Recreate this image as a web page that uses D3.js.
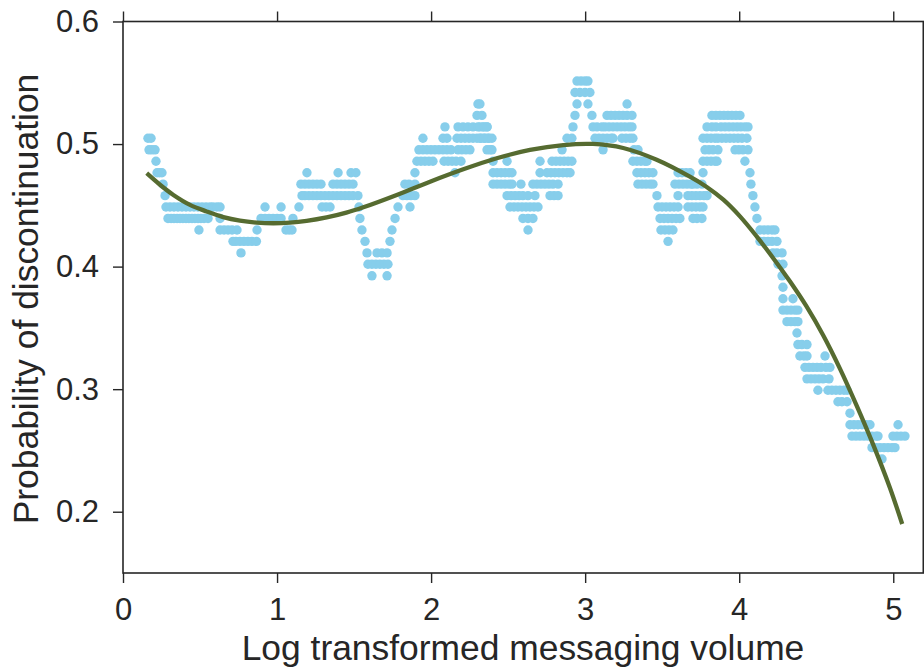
<!DOCTYPE html>
<html>
<head>
<meta charset="utf-8">
<script src="https://cdn.jsdelivr.net/npm/d3@7"></script>
<style>
  body { margin: 0; background: #fff; }
  svg { display: block; font-family: "Liberation Sans", Arial, sans-serif; }
</style>
</head>
<body>
<svg id="chart" width="924" height="668"></svg>
<script>
// Tick values
const xTicks = [0, 1, 2, 3, 4, 5];
const yTicks = [0.2, 0.3, 0.4, 0.5, 0.6];

// Rolling discontinuation rate: each entry is [rate, volumes at which that rate occurs]
const rollingRuns = [
  [0.5047, [0.162, 0.182]],
  [0.4953, [0.169, 0.188, 0.208]],
  [0.4860, [0.214]],
  [0.4766, [0.221, 0.237, 0.253]],
  [0.4673, [0.260]],
  [0.4579, [0.273]],
  [0.4486, [0.279, 0.305, 0.331, 0.357, 0.383, 0.409, 0.435, 0.461, 0.487, 0.513, 0.539, 0.565, 0.584, 0.610, 0.630]],
  [0.4393, [0.292, 0.312, 0.331, 0.351, 0.370, 0.389, 0.409, 0.428, 0.448, 0.467, 0.487, 0.506, 0.526, 0.552, 0.630]],
  [0.4299, [0.493]],
  [0.4299, [0.630, 0.656, 0.682, 0.708, 0.740]],
  [0.4206, [0.714, 0.733, 0.759, 0.785, 0.811, 0.837, 0.866]],
  [0.4112, [0.766]],
  [0.4299, [0.870]],
  [0.4393, [0.896, 0.922, 0.948, 0.974, 1.000, 1.026]],
  [0.4486, [0.922, 1.026]],
  [0.4299, [1.058, 1.078, 1.097]],
  [0.4393, [1.103]],
  [0.4486, [1.142]],
  [0.4579, [1.162, 1.181, 1.207, 1.233, 1.259, 1.285, 1.311, 1.337, 1.363, 1.389, 1.415, 1.441, 1.467, 1.493, 1.525]],
  [0.4673, [1.155, 1.181, 1.207, 1.233, 1.259, 1.285]],
  [0.4766, [1.194]],
  [0.4486, [1.292, 1.318, 1.344]],
  [0.4673, [1.363, 1.389, 1.415, 1.441, 1.467, 1.493]],
  [0.4766, [1.396, 1.480, 1.512]],
  [0.4486, [1.532]],
  [0.4393, [1.538]],
  [0.4299, [1.551]],
  [0.4206, [1.571]],
  [0.4112, [1.584, 1.649, 1.681, 1.714]],
  [0.4019, [1.590, 1.616, 1.642, 1.668, 1.694, 1.720]],
  [0.3925, [1.616, 1.714]],
  [0.4206, [1.733]],
  [0.4299, [1.746]],
  [0.4393, [1.766]],
  [0.4486, [1.785, 1.863]],
  [0.4579, [1.817, 1.843, 1.869, 1.895]],
  [0.4673, [1.830, 1.856, 1.895]],
  [0.4766, [1.895]],
  [0.4860, [1.908, 1.934, 1.960, 1.986, 2.012, 2.084, 2.110, 2.136, 2.162, 2.194]],
  [0.4953, [1.921, 1.947, 1.973, 1.999, 2.025, 2.051, 2.077, 2.103, 2.129, 2.175, 2.200, 2.226, 2.252]],
  [0.5047, [1.947, 2.077, 2.103, 2.168, 2.194, 2.220, 2.246, 2.272, 2.298, 2.324, 2.350, 2.376]],
  [0.5140, [2.090, 2.175, 2.207, 2.239, 2.272, 2.304, 2.337, 2.363]],
  [0.4766, [2.155]],
  [0.5234, [2.298, 2.330]],
  [0.5327, [2.304, 2.317]],
  [0.4953, [2.363, 2.382]],
  [0.5140, [2.317, 2.343, 2.363]],
  [0.5047, [2.317, 2.343, 2.369, 2.395]],
  [0.4953, [2.395]],
  [0.4860, [2.402, 2.493]],
  [0.4766, [2.402, 2.428, 2.454, 2.480, 2.506, 2.525]],
  [0.4673, [2.402, 2.428, 2.454, 2.480, 2.506, 2.525, 2.583]],
  [0.4579, [2.493, 2.519, 2.545, 2.571, 2.596, 2.629, 2.674]],
  [0.4486, [2.512, 2.538, 2.564, 2.590, 2.616, 2.642, 2.668, 2.694]],
  [0.4393, [2.596, 2.629, 2.661]],
  [0.4299, [2.629]],
  [0.4673, [2.661, 2.687, 2.713, 2.739, 2.765, 2.791, 2.824]],
  [0.4860, [2.707]],
  [0.4766, [2.707, 2.752, 2.778, 2.804, 2.830, 2.856, 2.882, 2.902]],
  [0.4579, [2.772, 2.798, 2.824]],
  [0.4860, [2.785, 2.811, 2.837, 2.863, 2.889, 2.914]],
  [0.4953, [2.850]],
  [0.5047, [2.882, 2.914]],
  [0.5140, [2.921]],
  [0.5234, [2.934]],
  [0.5327, [2.947]],
  [0.5421, [2.934, 2.966, 2.999, 3.031]],
  [0.5514, [2.947, 2.973, 2.999, 3.018]],
  [0.5327, [3.018]],
  [0.5234, [3.044]],
  [0.5140, [3.051, 3.077, 3.109]],
  [0.5047, [3.064, 3.090, 3.116, 3.142, 3.168, 3.181]],
  [0.4953, [3.116]],
  [0.5140, [3.129, 3.155, 3.181, 3.207, 3.233, 3.258, 3.284, 3.304]],
  [0.5234, [3.142, 3.168, 3.194, 3.220, 3.246, 3.272, 3.304]],
  [0.5327, [3.272]],
  [0.5047, [3.239, 3.265, 3.291, 3.310]],
  [0.4953, [3.317, 3.343]],
  [0.4860, [3.310, 3.336, 3.362, 3.388, 3.401]],
  [0.4766, [3.336, 3.362, 3.388, 3.414, 3.440]],
  [0.4673, [3.343, 3.369, 3.395, 3.421, 3.440]],
  [0.4579, [3.466]],
  [0.4486, [3.473, 3.499, 3.525, 3.551, 3.577, 3.603]],
  [0.4393, [3.486, 3.512, 3.538, 3.564, 3.590, 3.615]],
  [0.4299, [3.492, 3.518, 3.544, 3.570]],
  [0.4206, [3.538]],
  [0.4766, [3.603, 3.629, 3.655, 3.681]],
  [0.4673, [3.583, 3.609, 3.635, 3.661, 3.687, 3.700, 3.726]],
  [0.4579, [3.603, 3.667, 3.693, 3.719, 3.745, 3.771, 3.791]],
  [0.4486, [3.667, 3.693, 3.719, 3.745, 3.765]],
  [0.4393, [3.700, 3.726, 3.758]],
  [0.4673, [3.758]],
  [0.4766, [3.765]],
  [0.4860, [3.765, 3.791, 3.817, 3.843, 3.856]],
  [0.4953, [3.778, 3.804, 3.830, 3.862]],
  [0.5047, [3.765, 3.791, 3.817, 3.843, 3.862]],
  [0.5140, [3.791, 3.823, 3.849, 3.882, 3.908, 3.934, 3.960, 3.986, 4.011, 4.037, 4.057]],
  [0.5234, [3.823, 3.849, 3.875, 3.901, 3.927, 3.953, 3.979, 4.005]],
  [0.5047, [3.888, 3.914, 3.940, 3.966, 3.992, 4.018, 4.050]],
  [0.4953, [3.973, 3.998, 4.024, 4.057]],
  [0.4860, [4.037]],
  [0.4766, [4.070]],
  [0.4673, [4.076]],
  [0.4579, [4.089]],
  [0.4486, [4.102]],
  [0.4393, [4.115]],
  [0.4299, [4.135, 4.161, 4.187, 4.213, 4.232]],
  [0.4206, [4.135, 4.161, 4.187, 4.213, 4.245]],
  [0.4112, [4.219, 4.245, 4.278]],
  [0.4019, [4.252, 4.284]],
  [0.3925, [4.278]],
  [0.3832, [4.284]],
  [0.3738, [4.284, 4.349]],
  [0.3645, [4.284, 4.310, 4.336, 4.362, 4.381]],
  [0.3551, [4.310, 4.336, 4.362, 4.381]],
  [0.3458, [4.375]],
  [0.3364, [4.381, 4.407, 4.440]],
  [0.3271, [4.394, 4.420, 4.440, 4.557]],
  [0.3178, [4.427, 4.453, 4.479, 4.505, 4.531, 4.563, 4.589]],
  [0.3084, [4.440, 4.466, 4.492, 4.518, 4.544, 4.583]],
  [0.2991, [4.511, 4.576, 4.602, 4.628, 4.654, 4.680, 4.700]],
  [0.2897, [4.641, 4.667, 4.700]],
  [0.2804, [4.719]],
  [0.2710, [4.719, 4.745, 4.771, 4.797, 4.823, 4.849, 5.031]],
  [0.2617, [4.732, 4.758, 4.784, 4.810, 4.836, 4.862, 4.888, 4.901, 4.998, 5.024, 5.050, 5.076]],
  [0.2523, [4.862, 4.888, 4.914, 4.940, 4.966, 4.992, 5.011]],
  [0.2430, [4.927]]
];

// Fitted trend of the discontinuation rate
const fitVolume = [0.154, 0.240, 0.327, 0.435, 0.543, 0.651, 0.759, 0.868, 0.976, 1.084, 1.192, 1.322, 1.450, 1.560, 1.777, 1.993, 2.209, 2.426, 2.642, 2.858, 3.050, 3.247, 3.464, 3.680, 3.789, 3.897, 4.005, 4.113, 4.221, 4.329, 4.437, 4.545, 4.653, 4.761, 4.869, 4.977, 5.058];
const fitRate   = [0.4762, 0.4668, 0.4585, 0.4504, 0.4450, 0.4404, 0.4375, 0.4359, 0.4354, 0.4359, 0.4373, 0.4401, 0.4440, 0.4484, 0.4585, 0.4693, 0.4794, 0.4884, 0.4952, 0.4992, 0.5001, 0.4968, 0.4872, 0.4734, 0.4650, 0.4546, 0.4410, 0.4247, 0.4069, 0.3880, 0.3675, 0.3440, 0.3170, 0.2870, 0.2550, 0.2200, 0.1900];

const points = rollingRuns.flatMap(([rate, vols]) => vols.map(v => ({ v, rate })));
const fit = fitVolume.map((v, i) => ({ v, rate: fitRate[i] }));

const frame = { left: 123, right: 923.3, top: 21.5, bottom: 573 };
const x = d3.scaleLinear().domain([0, 5.195]).range([frame.left, frame.right]);
const y = d3.scaleLinear().domain([0.15, 0.6]).range([frame.bottom, frame.top]);

const svg = d3.select("#chart");
const ink = "#262626";

// Scatter of rolling rates
svg.append("g")
  .selectAll("circle")
  .data(points)
  .join("circle")
  .attr("cx", d => x(d.v))
  .attr("cy", d => y(d.rate))
  .attr("r", 4.7)
  .attr("fill", "#87ceeb");

// Fitted trend line
svg.append("path")
  .datum(fit)
  .attr("fill", "none")
  .attr("stroke", "#566b30")
  .attr("stroke-width", 4.3)
  .attr("stroke-linecap", "butt")
  .attr("d", d3.line().x(d => x(d.v)).y(d => y(d.rate)).curve(d3.curveCatmullRom.alpha(0.5)));

// Axes on all four sides, ticks pointing outward
const tickLen = 10;
const fmt = d3.format(".1f");
const styleAxis = g => {
  g.select(".domain").remove();
  g.selectAll(".tick line").attr("stroke", ink).attr("stroke-width", 1.4);
  g.selectAll(".tick text").attr("fill", ink).attr("font-size", 31).attr("font-family", "Liberation Sans, Arial, sans-serif");
};

svg.append("g")
  .attr("transform", `translate(0,${frame.bottom})`)
  .call(d3.axisBottom(x).tickValues(xTicks).tickFormat(d3.format("d")).tickSize(tickLen).tickPadding(15))
  .call(styleAxis);

svg.append("g")
  .attr("transform", `translate(0,${frame.top})`)
  .call(d3.axisTop(x).tickValues(xTicks).tickFormat("").tickSize(tickLen))
  .call(styleAxis);

svg.append("g")
  .attr("transform", `translate(${frame.left},0)`)
  .call(d3.axisLeft(y).tickValues(yTicks).tickFormat(fmt).tickSize(tickLen).tickPadding(14))
  .call(styleAxis);

svg.append("g")
  .attr("transform", `translate(${frame.right},0)`)
  .call(d3.axisRight(y).tickValues(yTicks).tickFormat("").tickSize(tickLen))
  .call(styleAxis);

// Frame
svg.append("rect")
  .attr("x", frame.left)
  .attr("y", frame.top)
  .attr("width", frame.right - frame.left)
  .attr("height", frame.bottom - frame.top)
  .attr("fill", "none")
  .attr("stroke", ink)
  .attr("stroke-width", 1.6);

// Axis titles
svg.append("text")
  .attr("x", 523)
  .attr("y", 660)
  .attr("text-anchor", "middle")
  .attr("font-size", 35.4)
  .attr("fill", ink)
  .text("Log transformed messaging volume");

svg.append("text")
  .attr("transform", "translate(38,299) rotate(-90)")
  .attr("text-anchor", "middle")
  .attr("font-size", 35.4)
  .attr("fill", ink)
  .text("Probability of discontinuation");
</script>
</body>
</html>
